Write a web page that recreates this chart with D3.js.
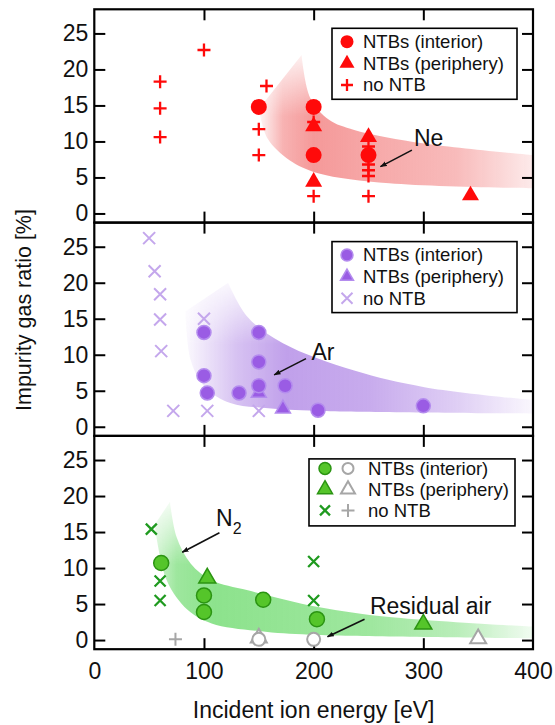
<!DOCTYPE html>
<html>
<head>
<meta charset="utf-8">
<script src="https://cdn.jsdelivr.net/npm/d3@7"></script>
<style>
  body { margin: 0; background: #fff; }
  svg { font-family: "Liberation Sans", Arial, sans-serif; }
</style>
</head>
<body>
<div id="chart"></div>
<script>
// ---- data: [incident ion energy (eV), impurity gas ratio (%)] ----
var energyTicks = [0, 100, 200, 300, 400];
var innerTicks = [100, 200, 300];
var ratioTicks = [0, 5, 10, 15, 20, 25];

// Ne
var neInterior = [[150, 14.8], [200, 14.8], [200, 8.1], [250, 8.1]];
var nePeriphery = [[200, 12.1], [200, 4.4], [250, 10.6], [343, 2.5]];
var neNone = [[60, 18.3], [60, 14.6], [60, 10.6], [100, 22.7], [157, 17.7], [150, 11.7], [150, 8.1],
              [200, 12.7], [200, 2.4], [250, 9.3], [250, 6.8], [250, 6.0], [250, 5.2], [250, 2.4]];
var neBandUpper = [[189, 22.0], [197, 16.0], [214, 13.0], [237, 11.6], [301, 9.7], [400, 8.1]];
var neBandLower = [[150, 14.5], [158, 10.4], [178, 7.4], [204, 5.6], [269, 4.2], [400, 3.5]];

// Ar
var arInterior = [[100, 13.1], [100, 7.1], [103, 4.7], [132, 4.7], [150, 13.1], [150, 9.0],
                  [150, 5.7], [174, 5.7], [204, 2.3], [300, 2.9]];
var arPeriphery = [[150, 4.7], [172, 2.5]];
var arNone = [[50, 26.2], [55, 21.6], [60, 18.4], [60, 14.9], [61, 10.5], [72, 2.2], [100, 15.0],
              [103, 2.2], [150, 2.2]];
var arBandUpper = [[122, 20.0], [140, 15.2], [172, 11.6], [237, 7.8], [301, 5.5], [400, 3.7]];
var arBandLower = [[83, 16.0], [88, 9.2], [101, 5.5], [124, 3.3], [156, 2.6], [204, 2.2], [400, 1.85]];

// N2
var n2Interior = [[61, 10.7], [100, 6.2], [100, 3.9], [154, 5.6], [203, 2.9]];
var n2Periphery = [[103, 8.6], [300, 2.2]];
var n2None = [[52, 15.4], [60, 8.2], [60, 5.5], [200, 10.9], [200, 5.5]];
var n2BandUpper = [[69, 19.2], [75, 14.3], [88, 10.6], [107, 8.3], [140, 6.9], [204, 4.6], [269, 3.2], [400, 1.85]];
var n2BandLower = [[55, 16.0], [66, 8.3], [85, 4.2], [107, 2.3], [156, 1.15], [204, 0.7], [400, 0.25]];

// residual air
var airInterior = [[150, 0.1], [200, 0.1]];
var airPeriphery = [[150, 0.3], [350, 0.2]];
var airNone = [[74, 0.1]];

var legendLabels = ["NTBs (interior)", "NTBs (periphery)", "no NTB"];

// ---- layout ----
var svgWidth = 555;
var svgHeight = 725;
var panelH = 213.3;
var panelTops = [9.3, 222.6, 435.9];
var yDomain = [-1.27, 28.35];

var svg = d3.select("#chart")
  .append("svg")
  .attr("width", svgWidth)
  .attr("height", svgHeight);

var defs = svg.append("defs");

var x = d3.scaleLinear().domain([0, 400]).range([94.3, 533]);

// marker shapes
function plusPath(s) { var h = s / 2; return "M" + (-h) + ",0H" + h + "M0," + (-h) + "V" + h; }
function timesPath(s) { var h = s / 2; return "M" + (-h) + "," + (-h) + "L" + h + "," + h + "M" + (-h) + "," + h + "L" + h + "," + (-h); }
function triPath(a) {
  var h = a * Math.sqrt(3) / 2;
  return "M0," + (-2 * h / 3) + "L" + (a / 2) + "," + (h / 3) + "L" + (-a / 2) + "," + (h / 3) + "Z";
}
function circlePath(r) { return d3.symbol().type(d3.symbolCircle).size(Math.PI * r * r)(); }

// arrow head
defs.append("marker")
  .attr("id", "arrow")
  .attr("viewBox", "0 0 10 10")
  .attr("refX", 9).attr("refY", 5)
  .attr("markerWidth", 7).attr("markerHeight", 7)
  .attr("markerUnits", "userSpaceOnUse")
  .attr("orient", "auto")
  .append("path")
  .attr("d", "M0,1.5L10,5L0,8.5Z")
  .attr("fill", "#111");

var lineCurve = d3.line().curve(d3.curveCatmullRom.alpha(0.5));

function drawPanel(i, p) {
  var top = panelTops[i];
  var y = d3.scaleLinear().domain(yDomain).range([top + panelH, top]);
  var g = svg.append("g");

  defs.append("clipPath").attr("id", "clip" + i)
    .append("rect").attr("x", x(0)).attr("y", top).attr("width", x(400) - x(0)).attr("height", panelH);

  // shaded band: horizontal colour gradient, faded at the top by a mask
  var grad = defs.append("linearGradient")
    .attr("id", "band" + i)
    .attr("gradientUnits", "userSpaceOnUse")
    .attr("x1", x(p.gradStops[0][0])).attr("x2", x(400))
    .attr("y1", 0).attr("y2", 0);
  var e0 = p.gradStops[0][0];
  p.gradStops.forEach(function (s) {
    grad.append("stop")
      .attr("offset", (s[0] - e0) / (400 - e0))
      .attr("stop-color", p.bandColor)
      .attr("stop-opacity", s[1]);
  });

  var vgrad = defs.append("linearGradient")
    .attr("id", "vfade" + i)
    .attr("gradientUnits", "userSpaceOnUse")
    .attr("x1", 0).attr("x2", 0)
    .attr("y1", y(p.fade[0])).attr("y2", y(p.fade[1]));
  vgrad.append("stop").attr("offset", 0).attr("stop-color", "#fff").attr("stop-opacity", 0.1);
  vgrad.append("stop").attr("offset", 1).attr("stop-color", "#fff").attr("stop-opacity", 1);
  defs.append("mask").attr("id", "mask" + i)
    .attr("maskUnits", "userSpaceOnUse")
    .attr("x", x(0)).attr("y", top).attr("width", x(400) - x(0)).attr("height", panelH)
    .append("rect")
    .attr("x", x(0)).attr("y", top).attr("width", x(400) - x(0)).attr("height", panelH)
    .attr("fill", "url(#vfade" + i + ")");

  var up = p.bandUpper.map(function (d) { return [x(d[0]), y(d[1])]; });
  var lo = p.bandLower.map(function (d) { return [x(d[0]), y(d[1])]; }).reverse();
  g.append("g").attr("clip-path", "url(#clip" + i + ")")
    .append("path")
    .attr("mask", "url(#mask" + i + ")")
    .attr("d", lineCurve(up) + "L" + lineCurve(lo).slice(1) + "Z")
    .attr("fill", "url(#band" + i + ")");

  // frame + inward ticks
  g.append("g").attr("transform", "translate(" + x(0) + ",0)")
    .call(d3.axisLeft(y).tickValues(ratioTicks).tickSizeInner(-11).tickSizeOuter(0).tickPadding(6))
    .call(function (a) {
      a.select(".domain").remove();
      a.selectAll("line").attr("stroke-width", 2).attr("stroke", "#000");
      a.selectAll("text").attr("font-size", 23).attr("font-family", null).attr("fill", "#111");
    });
  g.append("g").attr("transform", "translate(" + x(400) + ",0)")
    .call(d3.axisRight(y).tickValues(ratioTicks).tickSizeInner(-11).tickSizeOuter(0).tickFormat(""))
    .call(function (a) { a.select(".domain").remove(); a.selectAll("line").attr("stroke-width", 2); });
  g.append("g").attr("transform", "translate(0," + top + ")")
    .call(d3.axisTop(x).tickValues(innerTicks).tickSizeInner(-11).tickSizeOuter(0).tickFormat(""))
    .call(function (a) { a.select(".domain").remove(); a.selectAll("line").attr("stroke-width", 2); });
  g.append("g").attr("transform", "translate(0," + (top + panelH) + ")")
    .call(d3.axisBottom(x).tickValues(innerTicks).tickSizeInner(-11).tickSizeOuter(0).tickFormat(""))
    .call(function (a) { a.select(".domain").remove(); a.selectAll("line").attr("stroke-width", 2); });

  g.append("rect")
    .attr("x", x(0)).attr("y", top)
    .attr("width", x(400) - x(0)).attr("height", panelH)
    .attr("fill", "none").attr("stroke", "#000").attr("stroke-width", 2.2);

  // points
  function pts(data, path, style) {
    g.append("g").selectAll("path").data(data).enter().append("path")
      .attr("transform", function (d) { return "translate(" + x(d[0]) + "," + y(d[1]) + ")"; })
      .attr("d", path)
      .attr("fill", style.fill || "none")
      .attr("stroke", style.stroke || "none")
      .attr("stroke-width", style.sw || 0);
  }
  p.series.forEach(function (s) { pts(s.data, s.path, s.style); });

  // annotation
  p.notes.forEach(function (n) {
    g.append("line")
      .attr("x1", x(n.from[0])).attr("y1", y(n.from[1]))
      .attr("x2", x(n.to[0])).attr("y2", y(n.to[1]))
      .attr("stroke", "#111").attr("stroke-width", 1.6)
      .attr("marker-end", "url(#arrow)");
    var t = g.append("text")
      .attr("x", x(n.at[0])).attr("y", y(n.at[1]))
      .attr("dy", "0.35em")
      .attr("font-size", 23).attr("fill", "#111")
      .text(n.label);
    if (n.sub) {
      t.append("tspan").attr("font-size", 16).attr("dy", 8).text(n.sub);
    }
  });

  // legend
  var L = p.legend;
  var lg = g.append("g");
  lg.append("rect")
    .attr("x", L.x0).attr("y", top + L.y0)
    .attr("width", L.x1 - L.x0).attr("height", L.y1 - L.y0)
    .attr("fill", "#fff").attr("stroke", "#000").attr("stroke-width", 1.6);
  legendLabels.forEach(function (lab, k) {
    var cy = top + L.rows[k];
    L.marks[k].forEach(function (m) {
      lg.append("path")
        .attr("transform", "translate(" + m.x + "," + cy + ")")
        .attr("d", m.path)
        .attr("fill", m.style.fill || "none")
        .attr("stroke", m.style.stroke || "none")
        .attr("stroke-width", m.style.sw || 0);
    });
    lg.append("text")
      .attr("x", L.tx).attr("y", cy).attr("dy", "0.35em")
      .attr("font-size", 18.5).attr("fill", "#111")
      .text(lab);
  });

  return y;
}

// ---- styles ----
var red = { fill: "#ff0a0a" };
var redCross = { stroke: "#ff0a0a", sw: 2.3 };
var purple = { fill: "#9a5ce4", stroke: "#b48cee", sw: 1.5 };
var purpleX = { stroke: "#c4a7ec", sw: 2 };
var green = { fill: "#55c52a", stroke: "#2b9412", sw: 1.5 };
var greenX = { stroke: "#1f9a1f", sw: 2.3 };
var gray = { fill: "#fff", stroke: "#a6a6a6", sw: 2 };
var grayPlus = { stroke: "#a6a6a6", sw: 2 };

// Ne panel
drawPanel(0, {
  bandColor: "#ee5555",
  gradStops: [[148, 0], [172, 0.45], [200, 0.6], [260, 0.5], [330, 0.4], [400, 0.12]],
  fade: [22.5, 13.5],
  bandUpper: neBandUpper, bandLower: neBandLower,
  series: [
    { data: neNone, path: plusPath(13), style: redCross },
    { data: nePeriphery, path: triPath(17), style: red },
    { data: neInterior, path: circlePath(8), style: red }
  ],
  notes: [{ label: "Ne", at: [291.5, 10.5], from: [289.6, 8.8], to: [260.9, 6.5] }],
  legend: {
    x0: 332, x1: 517, y0: 19, y1: 90, tx: 363, rows: [32.4, 54, 75.7],
    marks: [
      [{ x: 347, path: circlePath(6.5), style: red }],
      [{ x: 347, path: triPath(15), style: red }],
      [{ x: 347, path: plusPath(12), style: redCross }]
    ]
  }
});

// Ar panel
drawPanel(1, {
  bandColor: "#9a66de",
  gradStops: [[82, 0.03], [130, 0.4], [175, 0.62], [250, 0.55], [330, 0.32], [400, 0.05]],
  fade: [20.5, 11.5],
  bandUpper: arBandUpper, bandLower: arBandLower,
  series: [
    { data: arNone, path: timesPath(12), style: purpleX },
    { data: arPeriphery, path: triPath(15), style: purple },
    { data: arInterior, path: circlePath(7), style: purple }
  ],
  notes: [{ label: "Ar", at: [198, 10.4], from: [193, 9.46], to: [164, 7.2] }],
  legend: {
    x0: 332, x1: 517, y0: 19, y1: 90, tx: 363, rows: [32.4, 54, 75.7],
    marks: [
      [{ x: 347, path: circlePath(6), style: purple }],
      [{ x: 347, path: triPath(13), style: purple }],
      [{ x: 347, path: timesPath(11), style: purpleX }]
    ]
  }
});

// N2 panel
drawPanel(2, {
  bandColor: "#4fd34f",
  gradStops: [[54, 0.25], [75, 0.55], [110, 0.65], [250, 0.55], [330, 0.4], [400, 0.08]],
  fade: [19.5, 10.5],
  bandUpper: n2BandUpper, bandLower: n2BandLower,
  series: [
    { data: n2None, path: timesPath(11), style: greenX },
    { data: airNone, path: plusPath(13), style: grayPlus },
    { data: airPeriphery, path: triPath(16), style: gray },
    { data: airInterior, path: circlePath(6.5), style: gray },
    { data: n2Periphery, path: triPath(17), style: green },
    { data: n2Interior, path: circlePath(7.5), style: green }
  ],
  notes: [
    { label: "N", sub: "2", at: [111, 17.0], from: [114.1, 14.9], to: [80.2, 12.2] },
    { label: "Residual air", at: [251.3, 4.7], from: [246.4, 2.9], to: [212.6, 0.46] }
  ],
  legend: {
    x0: 309, x1: 515, y0: 23, y1: 90, tx: 368, rows: [32.5, 53.5, 74.5],
    marks: [
      [{ x: 325, path: circlePath(6), style: green }, { x: 348, path: circlePath(5.5), style: gray }],
      [{ x: 325, path: triPath(15), style: green }, { x: 348, path: triPath(14), style: gray }],
      [{ x: 325, path: timesPath(10), style: greenX }, { x: 348, path: plusPath(13), style: grayPlus }]
    ]
  }
});

// x tick labels (bottom panel)
var bottomY = panelTops[2] + panelH;
svg.append("g").attr("transform", "translate(0," + bottomY + ")")
  .call(d3.axisBottom(x).tickValues(energyTicks).tickSize(0).tickPadding(13))
  .call(function (a) {
    a.select(".domain").remove();
    a.selectAll("text").attr("font-size", 23).attr("font-family", null).attr("fill", "#111");
  });

// axis titles
svg.append("text")
  .attr("x", (x(0) + x(400)) / 2).attr("y", 718)
  .attr("text-anchor", "middle")
  .attr("font-size", 23).attr("fill", "#111")
  .text("Incident ion energy [eV]");

svg.append("text")
  .attr("transform", "translate(31,310) rotate(-90)")
  .attr("text-anchor", "middle")
  .attr("font-size", 21.5).attr("fill", "#111")
  .text("Impurity gas ratio [%]");
</script>
</body>
</html>
